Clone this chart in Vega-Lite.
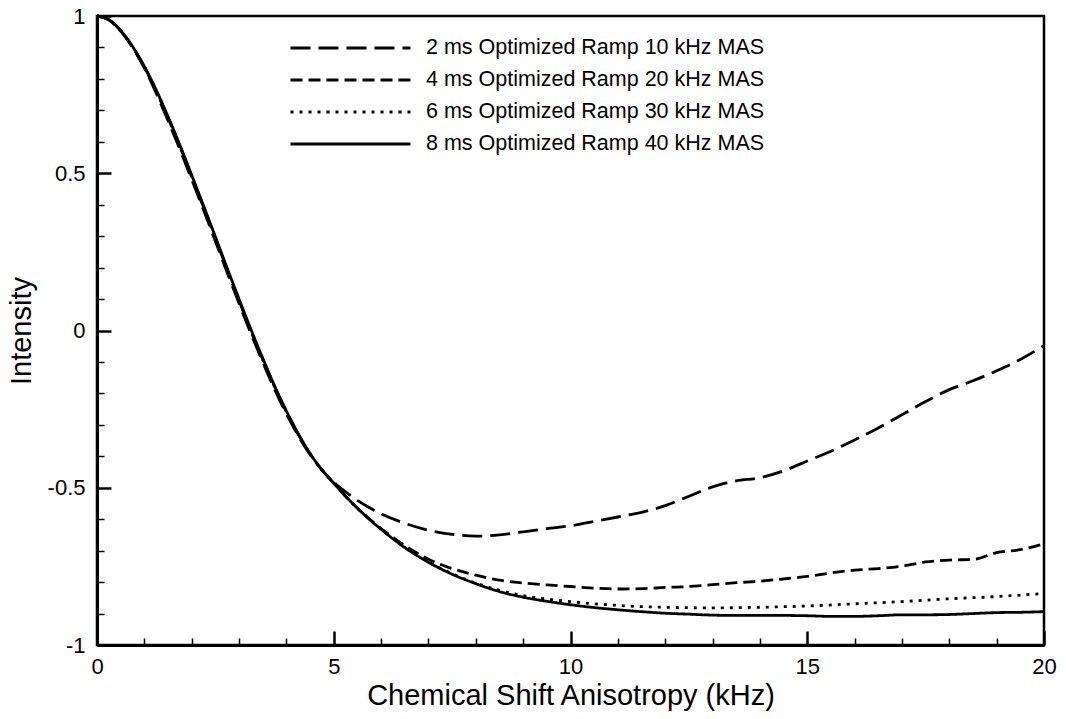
{
  "$schema": "https://vega.github.io/schema/vega-lite/v6.json",
  "width": 947,
  "height": 629,
  "autosize": "none",
  "padding": {"left": 97, "top": 16, "right": 22, "bottom": 74},
  "background": "white",
  "config": {
    "font": "Liberation Sans",
    "view": {"stroke": "black", "strokeWidth": 2.5},
    "axis": {
      "grid": false,
      "domainColor": "black",
      "domainWidth": 3,
      "tickColor": "black",
      "labelColor": "black",
      "titleColor": "black",
      "labelFont": "Liberation Sans",
      "titleFont": "Liberation Sans",
      "labelFontSize": 22,
      "titleFontSize": 29,
      "titleFontWeight": "normal",
      "labelOverlap": false,
      "labelFlush": false
    }
  },
  "datasets": {
    "curves": [
      {"s": "2 ms Optimized Ramp 10 kHz MAS", "x": 0, "y": 1.0},
      {"s": "2 ms Optimized Ramp 10 kHz MAS", "x": 0.25, "y": 0.988},
      {"s": "2 ms Optimized Ramp 10 kHz MAS", "x": 0.5, "y": 0.952},
      {"s": "2 ms Optimized Ramp 10 kHz MAS", "x": 0.75, "y": 0.9},
      {"s": "2 ms Optimized Ramp 10 kHz MAS", "x": 1.0, "y": 0.834},
      {"s": "2 ms Optimized Ramp 10 kHz MAS", "x": 1.25, "y": 0.755},
      {"s": "2 ms Optimized Ramp 10 kHz MAS", "x": 1.5, "y": 0.667},
      {"s": "2 ms Optimized Ramp 10 kHz MAS", "x": 1.75, "y": 0.576},
      {"s": "2 ms Optimized Ramp 10 kHz MAS", "x": 2.0, "y": 0.48},
      {"s": "2 ms Optimized Ramp 10 kHz MAS", "x": 2.25, "y": 0.383},
      {"s": "2 ms Optimized Ramp 10 kHz MAS", "x": 2.5, "y": 0.284},
      {"s": "2 ms Optimized Ramp 10 kHz MAS", "x": 2.75, "y": 0.184},
      {"s": "2 ms Optimized Ramp 10 kHz MAS", "x": 3.0, "y": 0.086},
      {"s": "2 ms Optimized Ramp 10 kHz MAS", "x": 3.25, "y": -0.01},
      {"s": "2 ms Optimized Ramp 10 kHz MAS", "x": 3.5, "y": -0.1},
      {"s": "2 ms Optimized Ramp 10 kHz MAS", "x": 3.75, "y": -0.187},
      {"s": "2 ms Optimized Ramp 10 kHz MAS", "x": 4.0, "y": -0.265},
      {"s": "2 ms Optimized Ramp 10 kHz MAS", "x": 4.25, "y": -0.335},
      {"s": "2 ms Optimized Ramp 10 kHz MAS", "x": 4.5, "y": -0.395},
      {"s": "2 ms Optimized Ramp 10 kHz MAS", "x": 4.75, "y": -0.443},
      {"s": "2 ms Optimized Ramp 10 kHz MAS", "x": 5.0, "y": -0.482},
      {"s": "2 ms Optimized Ramp 10 kHz MAS", "x": 5.25, "y": -0.513},
      {"s": "2 ms Optimized Ramp 10 kHz MAS", "x": 5.5, "y": -0.54},
      {"s": "2 ms Optimized Ramp 10 kHz MAS", "x": 5.75, "y": -0.563},
      {"s": "2 ms Optimized Ramp 10 kHz MAS", "x": 6.0, "y": -0.583},
      {"s": "2 ms Optimized Ramp 10 kHz MAS", "x": 6.5, "y": -0.613},
      {"s": "2 ms Optimized Ramp 10 kHz MAS", "x": 7.0, "y": -0.635},
      {"s": "2 ms Optimized Ramp 10 kHz MAS", "x": 7.5, "y": -0.648},
      {"s": "2 ms Optimized Ramp 10 kHz MAS", "x": 8.0, "y": -0.654},
      {"s": "2 ms Optimized Ramp 10 kHz MAS", "x": 8.5, "y": -0.65},
      {"s": "2 ms Optimized Ramp 10 kHz MAS", "x": 9.0, "y": -0.64},
      {"s": "2 ms Optimized Ramp 10 kHz MAS", "x": 9.5, "y": -0.63},
      {"s": "2 ms Optimized Ramp 10 kHz MAS", "x": 10.0, "y": -0.621},
      {"s": "2 ms Optimized Ramp 10 kHz MAS", "x": 10.5, "y": -0.607},
      {"s": "2 ms Optimized Ramp 10 kHz MAS", "x": 11.0, "y": -0.593},
      {"s": "2 ms Optimized Ramp 10 kHz MAS", "x": 11.5, "y": -0.578},
      {"s": "2 ms Optimized Ramp 10 kHz MAS", "x": 12.0, "y": -0.557},
      {"s": "2 ms Optimized Ramp 10 kHz MAS", "x": 12.5, "y": -0.527},
      {"s": "2 ms Optimized Ramp 10 kHz MAS", "x": 13.0, "y": -0.497},
      {"s": "2 ms Optimized Ramp 10 kHz MAS", "x": 13.5, "y": -0.478},
      {"s": "2 ms Optimized Ramp 10 kHz MAS", "x": 14.0, "y": -0.468},
      {"s": "2 ms Optimized Ramp 10 kHz MAS", "x": 14.5, "y": -0.446},
      {"s": "2 ms Optimized Ramp 10 kHz MAS", "x": 15.0, "y": -0.415},
      {"s": "2 ms Optimized Ramp 10 kHz MAS", "x": 15.5, "y": -0.384},
      {"s": "2 ms Optimized Ramp 10 kHz MAS", "x": 16.0, "y": -0.348},
      {"s": "2 ms Optimized Ramp 10 kHz MAS", "x": 16.5, "y": -0.31},
      {"s": "2 ms Optimized Ramp 10 kHz MAS", "x": 17.0, "y": -0.268},
      {"s": "2 ms Optimized Ramp 10 kHz MAS", "x": 17.5, "y": -0.226},
      {"s": "2 ms Optimized Ramp 10 kHz MAS", "x": 18.0, "y": -0.188},
      {"s": "2 ms Optimized Ramp 10 kHz MAS", "x": 18.5, "y": -0.16},
      {"s": "2 ms Optimized Ramp 10 kHz MAS", "x": 19.0, "y": -0.128},
      {"s": "2 ms Optimized Ramp 10 kHz MAS", "x": 19.5, "y": -0.092},
      {"s": "2 ms Optimized Ramp 10 kHz MAS", "x": 20.0, "y": -0.048},

      {"s": "4 ms Optimized Ramp 20 kHz MAS", "x": 0, "y": 1.0},
      {"s": "4 ms Optimized Ramp 20 kHz MAS", "x": 0.25, "y": 0.988},
      {"s": "4 ms Optimized Ramp 20 kHz MAS", "x": 0.5, "y": 0.953},
      {"s": "4 ms Optimized Ramp 20 kHz MAS", "x": 0.75, "y": 0.902},
      {"s": "4 ms Optimized Ramp 20 kHz MAS", "x": 1.0, "y": 0.838},
      {"s": "4 ms Optimized Ramp 20 kHz MAS", "x": 1.25, "y": 0.762},
      {"s": "4 ms Optimized Ramp 20 kHz MAS", "x": 1.5, "y": 0.676},
      {"s": "4 ms Optimized Ramp 20 kHz MAS", "x": 1.75, "y": 0.585},
      {"s": "4 ms Optimized Ramp 20 kHz MAS", "x": 2.0, "y": 0.489},
      {"s": "4 ms Optimized Ramp 20 kHz MAS", "x": 2.25, "y": 0.392},
      {"s": "4 ms Optimized Ramp 20 kHz MAS", "x": 2.5, "y": 0.293},
      {"s": "4 ms Optimized Ramp 20 kHz MAS", "x": 2.75, "y": 0.193},
      {"s": "4 ms Optimized Ramp 20 kHz MAS", "x": 3.0, "y": 0.095},
      {"s": "4 ms Optimized Ramp 20 kHz MAS", "x": 3.25, "y": -0.001},
      {"s": "4 ms Optimized Ramp 20 kHz MAS", "x": 3.5, "y": -0.092},
      {"s": "4 ms Optimized Ramp 20 kHz MAS", "x": 3.75, "y": -0.179},
      {"s": "4 ms Optimized Ramp 20 kHz MAS", "x": 4.0, "y": -0.258},
      {"s": "4 ms Optimized Ramp 20 kHz MAS", "x": 4.25, "y": -0.33},
      {"s": "4 ms Optimized Ramp 20 kHz MAS", "x": 4.5, "y": -0.392},
      {"s": "4 ms Optimized Ramp 20 kHz MAS", "x": 4.75, "y": -0.443},
      {"s": "4 ms Optimized Ramp 20 kHz MAS", "x": 5.0, "y": -0.485},
      {"s": "4 ms Optimized Ramp 20 kHz MAS", "x": 5.25, "y": -0.527},
      {"s": "4 ms Optimized Ramp 20 kHz MAS", "x": 5.5, "y": -0.565},
      {"s": "4 ms Optimized Ramp 20 kHz MAS", "x": 5.75, "y": -0.599},
      {"s": "4 ms Optimized Ramp 20 kHz MAS", "x": 6.0, "y": -0.63},
      {"s": "4 ms Optimized Ramp 20 kHz MAS", "x": 6.5, "y": -0.684},
      {"s": "4 ms Optimized Ramp 20 kHz MAS", "x": 7.0, "y": -0.727},
      {"s": "4 ms Optimized Ramp 20 kHz MAS", "x": 7.5, "y": -0.757},
      {"s": "4 ms Optimized Ramp 20 kHz MAS", "x": 8.0, "y": -0.778},
      {"s": "4 ms Optimized Ramp 20 kHz MAS", "x": 8.5, "y": -0.794},
      {"s": "4 ms Optimized Ramp 20 kHz MAS", "x": 9.0, "y": -0.803},
      {"s": "4 ms Optimized Ramp 20 kHz MAS", "x": 9.5, "y": -0.809},
      {"s": "4 ms Optimized Ramp 20 kHz MAS", "x": 10.0, "y": -0.814},
      {"s": "4 ms Optimized Ramp 20 kHz MAS", "x": 10.5, "y": -0.819},
      {"s": "4 ms Optimized Ramp 20 kHz MAS", "x": 11.0, "y": -0.822},
      {"s": "4 ms Optimized Ramp 20 kHz MAS", "x": 11.5, "y": -0.821},
      {"s": "4 ms Optimized Ramp 20 kHz MAS", "x": 12.0, "y": -0.817},
      {"s": "4 ms Optimized Ramp 20 kHz MAS", "x": 12.5, "y": -0.814},
      {"s": "4 ms Optimized Ramp 20 kHz MAS", "x": 13.0, "y": -0.808},
      {"s": "4 ms Optimized Ramp 20 kHz MAS", "x": 13.5, "y": -0.802},
      {"s": "4 ms Optimized Ramp 20 kHz MAS", "x": 14.0, "y": -0.797},
      {"s": "4 ms Optimized Ramp 20 kHz MAS", "x": 14.5, "y": -0.79},
      {"s": "4 ms Optimized Ramp 20 kHz MAS", "x": 15.0, "y": -0.782},
      {"s": "4 ms Optimized Ramp 20 kHz MAS", "x": 15.5, "y": -0.771},
      {"s": "4 ms Optimized Ramp 20 kHz MAS", "x": 16.0, "y": -0.762},
      {"s": "4 ms Optimized Ramp 20 kHz MAS", "x": 16.5, "y": -0.757},
      {"s": "4 ms Optimized Ramp 20 kHz MAS", "x": 17.0, "y": -0.749},
      {"s": "4 ms Optimized Ramp 20 kHz MAS", "x": 17.5, "y": -0.736},
      {"s": "4 ms Optimized Ramp 20 kHz MAS", "x": 18.0, "y": -0.73},
      {"s": "4 ms Optimized Ramp 20 kHz MAS", "x": 18.5, "y": -0.728},
      {"s": "4 ms Optimized Ramp 20 kHz MAS", "x": 19.0, "y": -0.706},
      {"s": "4 ms Optimized Ramp 20 kHz MAS", "x": 19.5, "y": -0.697},
      {"s": "4 ms Optimized Ramp 20 kHz MAS", "x": 20.0, "y": -0.678},

      {"s": "6 ms Optimized Ramp 30 kHz MAS", "x": 0, "y": 1.0},
      {"s": "6 ms Optimized Ramp 30 kHz MAS", "x": 0.25, "y": 0.988},
      {"s": "6 ms Optimized Ramp 30 kHz MAS", "x": 0.5, "y": 0.953},
      {"s": "6 ms Optimized Ramp 30 kHz MAS", "x": 0.75, "y": 0.902},
      {"s": "6 ms Optimized Ramp 30 kHz MAS", "x": 1.0, "y": 0.838},
      {"s": "6 ms Optimized Ramp 30 kHz MAS", "x": 1.25, "y": 0.762},
      {"s": "6 ms Optimized Ramp 30 kHz MAS", "x": 1.5, "y": 0.677},
      {"s": "6 ms Optimized Ramp 30 kHz MAS", "x": 1.75, "y": 0.586},
      {"s": "6 ms Optimized Ramp 30 kHz MAS", "x": 2.0, "y": 0.49},
      {"s": "6 ms Optimized Ramp 30 kHz MAS", "x": 2.25, "y": 0.393},
      {"s": "6 ms Optimized Ramp 30 kHz MAS", "x": 2.5, "y": 0.294},
      {"s": "6 ms Optimized Ramp 30 kHz MAS", "x": 2.75, "y": 0.194},
      {"s": "6 ms Optimized Ramp 30 kHz MAS", "x": 3.0, "y": 0.096},
      {"s": "6 ms Optimized Ramp 30 kHz MAS", "x": 3.25, "y": 0.0},
      {"s": "6 ms Optimized Ramp 30 kHz MAS", "x": 3.5, "y": -0.091},
      {"s": "6 ms Optimized Ramp 30 kHz MAS", "x": 3.75, "y": -0.178},
      {"s": "6 ms Optimized Ramp 30 kHz MAS", "x": 4.0, "y": -0.258},
      {"s": "6 ms Optimized Ramp 30 kHz MAS", "x": 4.25, "y": -0.33},
      {"s": "6 ms Optimized Ramp 30 kHz MAS", "x": 4.5, "y": -0.392},
      {"s": "6 ms Optimized Ramp 30 kHz MAS", "x": 4.75, "y": -0.443},
      {"s": "6 ms Optimized Ramp 30 kHz MAS", "x": 5.0, "y": -0.485},
      {"s": "6 ms Optimized Ramp 30 kHz MAS", "x": 5.25, "y": -0.527},
      {"s": "6 ms Optimized Ramp 30 kHz MAS", "x": 5.5, "y": -0.565},
      {"s": "6 ms Optimized Ramp 30 kHz MAS", "x": 5.75, "y": -0.6},
      {"s": "6 ms Optimized Ramp 30 kHz MAS", "x": 6.0, "y": -0.632},
      {"s": "6 ms Optimized Ramp 30 kHz MAS", "x": 6.5, "y": -0.689},
      {"s": "6 ms Optimized Ramp 30 kHz MAS", "x": 7.0, "y": -0.736},
      {"s": "6 ms Optimized Ramp 30 kHz MAS", "x": 7.5, "y": -0.773},
      {"s": "6 ms Optimized Ramp 30 kHz MAS", "x": 8.0, "y": -0.803},
      {"s": "6 ms Optimized Ramp 30 kHz MAS", "x": 8.5, "y": -0.826},
      {"s": "6 ms Optimized Ramp 30 kHz MAS", "x": 9.0, "y": -0.843},
      {"s": "6 ms Optimized Ramp 30 kHz MAS", "x": 9.5, "y": -0.854},
      {"s": "6 ms Optimized Ramp 30 kHz MAS", "x": 10.0, "y": -0.862},
      {"s": "6 ms Optimized Ramp 30 kHz MAS", "x": 10.5, "y": -0.869},
      {"s": "6 ms Optimized Ramp 30 kHz MAS", "x": 11.0, "y": -0.874},
      {"s": "6 ms Optimized Ramp 30 kHz MAS", "x": 11.5, "y": -0.878},
      {"s": "6 ms Optimized Ramp 30 kHz MAS", "x": 12.0, "y": -0.88},
      {"s": "6 ms Optimized Ramp 30 kHz MAS", "x": 13.0, "y": -0.882},
      {"s": "6 ms Optimized Ramp 30 kHz MAS", "x": 14.0, "y": -0.88},
      {"s": "6 ms Optimized Ramp 30 kHz MAS", "x": 15.0, "y": -0.876},
      {"s": "6 ms Optimized Ramp 30 kHz MAS", "x": 16.0, "y": -0.869},
      {"s": "6 ms Optimized Ramp 30 kHz MAS", "x": 17.0, "y": -0.862},
      {"s": "6 ms Optimized Ramp 30 kHz MAS", "x": 18.0, "y": -0.853},
      {"s": "6 ms Optimized Ramp 30 kHz MAS", "x": 19.0, "y": -0.846},
      {"s": "6 ms Optimized Ramp 30 kHz MAS", "x": 20.0, "y": -0.836},

      {"s": "8 ms Optimized Ramp 40 kHz MAS", "x": 0, "y": 1.0},
      {"s": "8 ms Optimized Ramp 40 kHz MAS", "x": 0.25, "y": 0.988},
      {"s": "8 ms Optimized Ramp 40 kHz MAS", "x": 0.5, "y": 0.954},
      {"s": "8 ms Optimized Ramp 40 kHz MAS", "x": 0.75, "y": 0.903},
      {"s": "8 ms Optimized Ramp 40 kHz MAS", "x": 1.0, "y": 0.84},
      {"s": "8 ms Optimized Ramp 40 kHz MAS", "x": 1.25, "y": 0.765},
      {"s": "8 ms Optimized Ramp 40 kHz MAS", "x": 1.5, "y": 0.68},
      {"s": "8 ms Optimized Ramp 40 kHz MAS", "x": 1.75, "y": 0.59},
      {"s": "8 ms Optimized Ramp 40 kHz MAS", "x": 2.0, "y": 0.494},
      {"s": "8 ms Optimized Ramp 40 kHz MAS", "x": 2.25, "y": 0.397},
      {"s": "8 ms Optimized Ramp 40 kHz MAS", "x": 2.5, "y": 0.298},
      {"s": "8 ms Optimized Ramp 40 kHz MAS", "x": 2.75, "y": 0.198},
      {"s": "8 ms Optimized Ramp 40 kHz MAS", "x": 3.0, "y": 0.1},
      {"s": "8 ms Optimized Ramp 40 kHz MAS", "x": 3.25, "y": 0.004},
      {"s": "8 ms Optimized Ramp 40 kHz MAS", "x": 3.5, "y": -0.088},
      {"s": "8 ms Optimized Ramp 40 kHz MAS", "x": 3.75, "y": -0.176},
      {"s": "8 ms Optimized Ramp 40 kHz MAS", "x": 4.0, "y": -0.256},
      {"s": "8 ms Optimized Ramp 40 kHz MAS", "x": 4.25, "y": -0.328},
      {"s": "8 ms Optimized Ramp 40 kHz MAS", "x": 4.5, "y": -0.391},
      {"s": "8 ms Optimized Ramp 40 kHz MAS", "x": 4.75, "y": -0.443},
      {"s": "8 ms Optimized Ramp 40 kHz MAS", "x": 5.0, "y": -0.486},
      {"s": "8 ms Optimized Ramp 40 kHz MAS", "x": 5.25, "y": -0.527},
      {"s": "8 ms Optimized Ramp 40 kHz MAS", "x": 5.5, "y": -0.565},
      {"s": "8 ms Optimized Ramp 40 kHz MAS", "x": 5.75, "y": -0.6},
      {"s": "8 ms Optimized Ramp 40 kHz MAS", "x": 6.0, "y": -0.632},
      {"s": "8 ms Optimized Ramp 40 kHz MAS", "x": 6.5, "y": -0.69},
      {"s": "8 ms Optimized Ramp 40 kHz MAS", "x": 7.0, "y": -0.737},
      {"s": "8 ms Optimized Ramp 40 kHz MAS", "x": 7.5, "y": -0.775},
      {"s": "8 ms Optimized Ramp 40 kHz MAS", "x": 8.0, "y": -0.805},
      {"s": "8 ms Optimized Ramp 40 kHz MAS", "x": 8.5, "y": -0.83},
      {"s": "8 ms Optimized Ramp 40 kHz MAS", "x": 9.0, "y": -0.848},
      {"s": "8 ms Optimized Ramp 40 kHz MAS", "x": 9.5, "y": -0.861},
      {"s": "8 ms Optimized Ramp 40 kHz MAS", "x": 10.0, "y": -0.872},
      {"s": "8 ms Optimized Ramp 40 kHz MAS", "x": 10.5, "y": -0.881},
      {"s": "8 ms Optimized Ramp 40 kHz MAS", "x": 11.0, "y": -0.888},
      {"s": "8 ms Optimized Ramp 40 kHz MAS", "x": 11.5, "y": -0.894},
      {"s": "8 ms Optimized Ramp 40 kHz MAS", "x": 12.0, "y": -0.899},
      {"s": "8 ms Optimized Ramp 40 kHz MAS", "x": 12.5, "y": -0.902},
      {"s": "8 ms Optimized Ramp 40 kHz MAS", "x": 13.0, "y": -0.905},
      {"s": "8 ms Optimized Ramp 40 kHz MAS", "x": 13.5, "y": -0.906},
      {"s": "8 ms Optimized Ramp 40 kHz MAS", "x": 14.0, "y": -0.906},
      {"s": "8 ms Optimized Ramp 40 kHz MAS", "x": 14.5, "y": -0.906},
      {"s": "8 ms Optimized Ramp 40 kHz MAS", "x": 15.0, "y": -0.907},
      {"s": "8 ms Optimized Ramp 40 kHz MAS", "x": 15.5, "y": -0.909},
      {"s": "8 ms Optimized Ramp 40 kHz MAS", "x": 16.0, "y": -0.909},
      {"s": "8 ms Optimized Ramp 40 kHz MAS", "x": 16.5, "y": -0.907},
      {"s": "8 ms Optimized Ramp 40 kHz MAS", "x": 17.0, "y": -0.904},
      {"s": "8 ms Optimized Ramp 40 kHz MAS", "x": 17.5, "y": -0.904},
      {"s": "8 ms Optimized Ramp 40 kHz MAS", "x": 18.0, "y": -0.903},
      {"s": "8 ms Optimized Ramp 40 kHz MAS", "x": 18.5, "y": -0.9},
      {"s": "8 ms Optimized Ramp 40 kHz MAS", "x": 19.0, "y": -0.897},
      {"s": "8 ms Optimized Ramp 40 kHz MAS", "x": 19.5, "y": -0.896},
      {"s": "8 ms Optimized Ramp 40 kHz MAS", "x": 20.0, "y": -0.894}
    ]
  },
  "data": {"name": "curves"},
  "mark": {"type": "line", "color": "black", "strokeWidth": 2.8, "interpolate": "monotone"},
  "encoding": {
    "x": {
      "field": "x",
      "type": "quantitative",
      "scale": {"domain": [0, 20], "nice": false, "zero": false},
      "axis": {
        "title": "Chemical Shift Anisotropy (kHz)",
        "values": [0,1,2,3,4,5,6,7,8,9,10,11,12,13,14,15,16,17,18,19,20],
        "labelExpr": "datum.value % 5 == 0 ? datum.label : ''",
        "tickSize": {"condition": {"test": "datum.value % 5 == 0", "value": -14}, "value": -7},
        "tickWidth": {"condition": {"test": "datum.value % 5 == 0", "value": 2.5}, "value": 1.5},
        "labelPadding": 25,
        "titlePadding": -3
      }
    },
    "y": {
      "field": "y",
      "type": "quantitative",
      "scale": {"domain": [-1, 1], "nice": false, "zero": false},
      "axis": {
        "title": "Intensity",
        "values": [-1,-0.9,-0.8,-0.7,-0.6,-0.5,-0.4,-0.3,-0.2,-0.1,0,0.1,0.2,0.3,0.4,0.5,0.6,0.7,0.8,0.9,1],
        "labelExpr": "(datum.value * 2) % 1 == 0 ? '' + datum.value : ''",
        "tickSize": {"condition": {"test": "(datum.value * 2) % 1 == 0", "value": -14}, "value": -7},
        "tickWidth": {"condition": {"test": "(datum.value * 2) % 1 == 0", "value": 2.5}, "value": 1.5},
        "labelPadding": 26,
        "titlePadding": 11
      }
    },
    "strokeDash": {
      "field": "s",
      "type": "nominal",
      "scale": {
        "domain": ["2 ms Optimized Ramp 10 kHz MAS", "4 ms Optimized Ramp 20 kHz MAS", "6 ms Optimized Ramp 30 kHz MAS", "8 ms Optimized Ramp 40 kHz MAS"],
        "range": [[20, 8], [12, 6], [3, 6], [1, 0]]
      },
      "legend": {
        "orient": "none",
        "legendX": 192,
        "legendY": 21,
        "title": null,
        "symbolType": "stroke",
        "symbolSize": 14400,
        "symbolStrokeWidth": 3,
        "symbolStrokeColor": "black",
        "clipHeight": 22,
        "rowPadding": 10,
        "labelFontSize": 21.5,
        "labelFont": "Liberation Sans",
        "labelColor": "black",
        "labelOffset": 14,
        "labelLimit": 0
      }
    }
  }
}
